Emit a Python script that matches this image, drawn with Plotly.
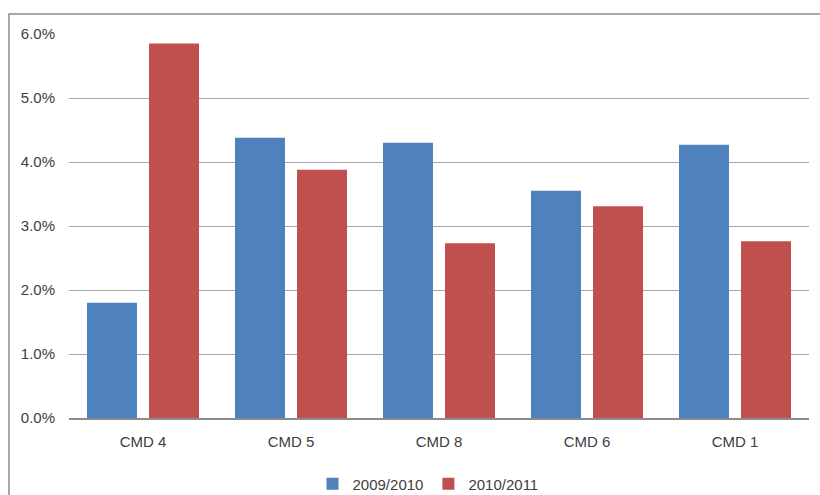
import plotly.graph_objects as go

categories = ["CMD 4", "CMD 5", "CMD 8", "CMD 6", "CMD 1"]
series_2009 = [0.0180, 0.0438, 0.0430, 0.0355, 0.0427]
series_2010 = [0.0585, 0.0388, 0.0273, 0.0331, 0.0276]
names = ["2009/2010", "2010/2011"]
colors = ["#4F81BD", "#C0504D"]

W, H = 820, 495
L, R, T, B = 69, 11, 34, 77
pw, ph = W - L - R, H - T - B

fig = go.Figure()
for name, vals, col in zip(names, [series_2009, series_2010], colors):
    fig.add_trace(go.Bar(x=categories, y=vals, name=name, marker=dict(color=col, line=dict(width=0))))

fig.update_layout(
    width=W, height=H,
    margin=dict(l=L, r=R, t=T, b=B, autoexpand=False),
    paper_bgcolor="white", plot_bgcolor="white",
    font=dict(family="Liberation Sans, Arial, sans-serif", size=15, color="#404040"),
    barmode="group", bargap=0.162, bargroupgap=0.194,
    showlegend=True,
    legend=dict(orientation="h", x=(428 - L) / pw, xanchor="center", y=-(484 - 418) / ph, yanchor="middle",
                font=dict(size=15, color="#404040"), itemwidth=30, traceorder="normal"),
    xaxis=dict(showgrid=False, showline=True, linecolor="#8c8c8c", linewidth=1.5,
               ticks="", ticklabelstandoff=9),
    yaxis=dict(range=[0, 0.06], dtick=0.01, tickformat=".1%", showgrid=True,
               gridcolor="#a6a6a6", gridwidth=1, zeroline=False, showline=False,
               ticks="", ticklabelstandoff=13),
    shapes=[dict(type="rect", xref="paper", yref="paper",
                 x0=(9 - L) / pw, x1=(W + 20 - L) / pw,
                 y0=-(H + 20 - (T + ph)) / ph,
                 y1=1 + (T - 14) / ph,
                 line=dict(color="#8c8c8c", width=1.5), fillcolor="rgba(0,0,0,0)", layer="below")],
)

fig.write_html("out.html", config={"displayModeBar": False},
               post_script="document.body.style.margin='0px';document.body.style.overflow='hidden';")
